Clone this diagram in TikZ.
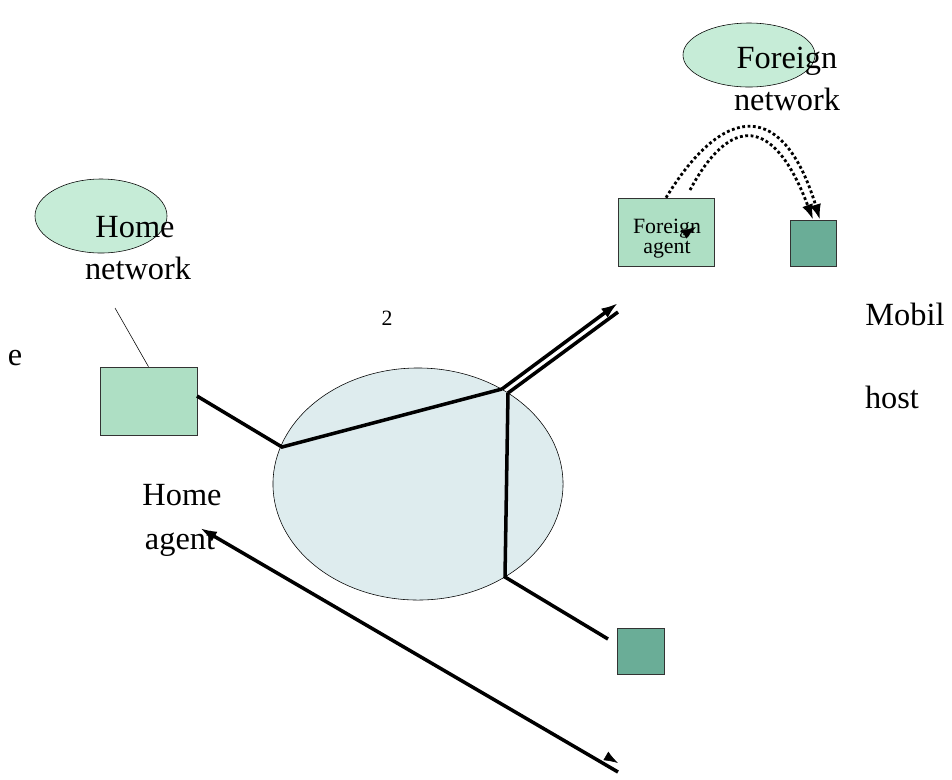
\documentclass[tikz,border=0pt]{standalone}
\usepackage{fontspec}
\setmainfont{Liberation Serif}
\usepackage{tikz}
\usetikzlibrary{positioning,shapes,arrows.meta}

\definecolor{netgreen}{RGB}{198,236,215}
\definecolor{agentgreen}{RGB}{174,223,196}
\definecolor{hostgreen}{RGB}{106,173,151}
\definecolor{corefill}{RGB}{222,236,238}

\begin{document}
\begin{tikzpicture}[x=0.025cm,y=-0.025cm,
  netnode/.style={ellipse,draw,thin,fill=netgreen,inner sep=0pt},
  agentbox/.style={draw=black!80,thin,fill=agentgreen,inner sep=0pt},
  hostbox/.style={draw=black!80,thin,fill=hostgreen,inner sep=0pt},
  link/.style={line width=2.5pt},
  tunnel/.style={line width=2pt,dash pattern=on 2pt off 1.8pt,-{Latex[length=11pt,width=8pt]}},
  bigtext/.style={font=\fontsize{23}{26}\selectfont,inner sep=0pt,anchor=base},
  smalltext/.style={font=\fontsize{15.5}{17}\selectfont,inner sep=0pt,anchor=base}
]
\useasboundingbox (0,0) rectangle (952,779);

% the networks
\node[netnode,minimum width=3.3cm,minimum height=1.85cm] (homenet) at (101,216) {};
\node[netnode,minimum width=3.3cm,minimum height=1.6cm] (fnet) at (749,55) {};
\node[ellipse,draw,thin,fill=corefill,minimum width=7.25cm,minimum height=5.8cm] (core) at (418,484) {};

% the boxes
\node[agentbox,minimum width=2.425cm,minimum height=1.7cm] (homeagent) at (148.5,401) {};
\node[agentbox,minimum width=2.4cm,minimum height=1.7cm] (fagent) at (666,232) {};
\node[hostbox,minimum size=1.15cm] (mhost) at (813,243) {};
\node[hostbox,minimum width=1.175cm,minimum height=1.15cm] (chost) at (641,651) {};

% the labels
\node[bigtext] (homelbl) at (135,237) {Home};
\node[bigtext] (homenetlbl) at (138,279) {network};
\node[bigtext] (flbl) at (787,68) {Foreign};
\node[bigtext] (fnetlbl) at (787,110) {network};
\node[bigtext] (elbl) at (15,365) {e};
\node[bigtext] (mobillbl) at (905,325) {Mobil};
\node[bigtext] (hostlbl) at (892,408) {host};
\node[bigtext] (halbl1) at (182,505) {Home};
\node[bigtext] (halbl2) at (180,549) {agent};
\node[smalltext] (twolbl) at (387,325) {2};
\node[smalltext] (falbl1) at (667,233) {Foreign};
\node[smalltext] (falbl2) at (667,253) {agent};

% the junctions
\coordinate (ha) at (197,396);
\coordinate (j1) at (282,447);
\coordinate (j2) at (502,389);
\coordinate (j3) at (508,393);
\coordinate (j4) at (505,577);
\coordinate (out1) at (618,303);
\coordinate (out2) at (618,312);
\coordinate (cend) at (608,639);
\coordinate (hn) at (115,308);
\coordinate (lo) at (618,772);
\coordinate (ha2) at (200,528);

% the edges
\draw [thin] (hn) -- (homeagent.north);
\draw [link] (ha) -- (j1) -- (j2);
\draw [link,-{Latex[length=12pt,width=8pt]}] (j2) -- (out1);
\draw [link] (j3) -- (out2);
\draw [link] (j3) -- (j4) -- (cend);
\draw [link,-{Latex[length=12pt,width=8pt]}] (lo) -- (ha2);
\draw [-{Latex[length=10pt,width=7pt]}] (606,756) -- (618,763);
\draw [-{Latex[length=10pt,width=7pt]}] (683,235) -- (696,227);

% the tunnel
\draw [tunnel] (fagent.north) .. controls (725,101) and (784,101) .. (mhost.north east -| 820,220);
\draw [tunnel] (690,190) .. controls (730,115) and (774,115) .. (mhost.north -| 813,218);

\end{tikzpicture}
\end{document}
